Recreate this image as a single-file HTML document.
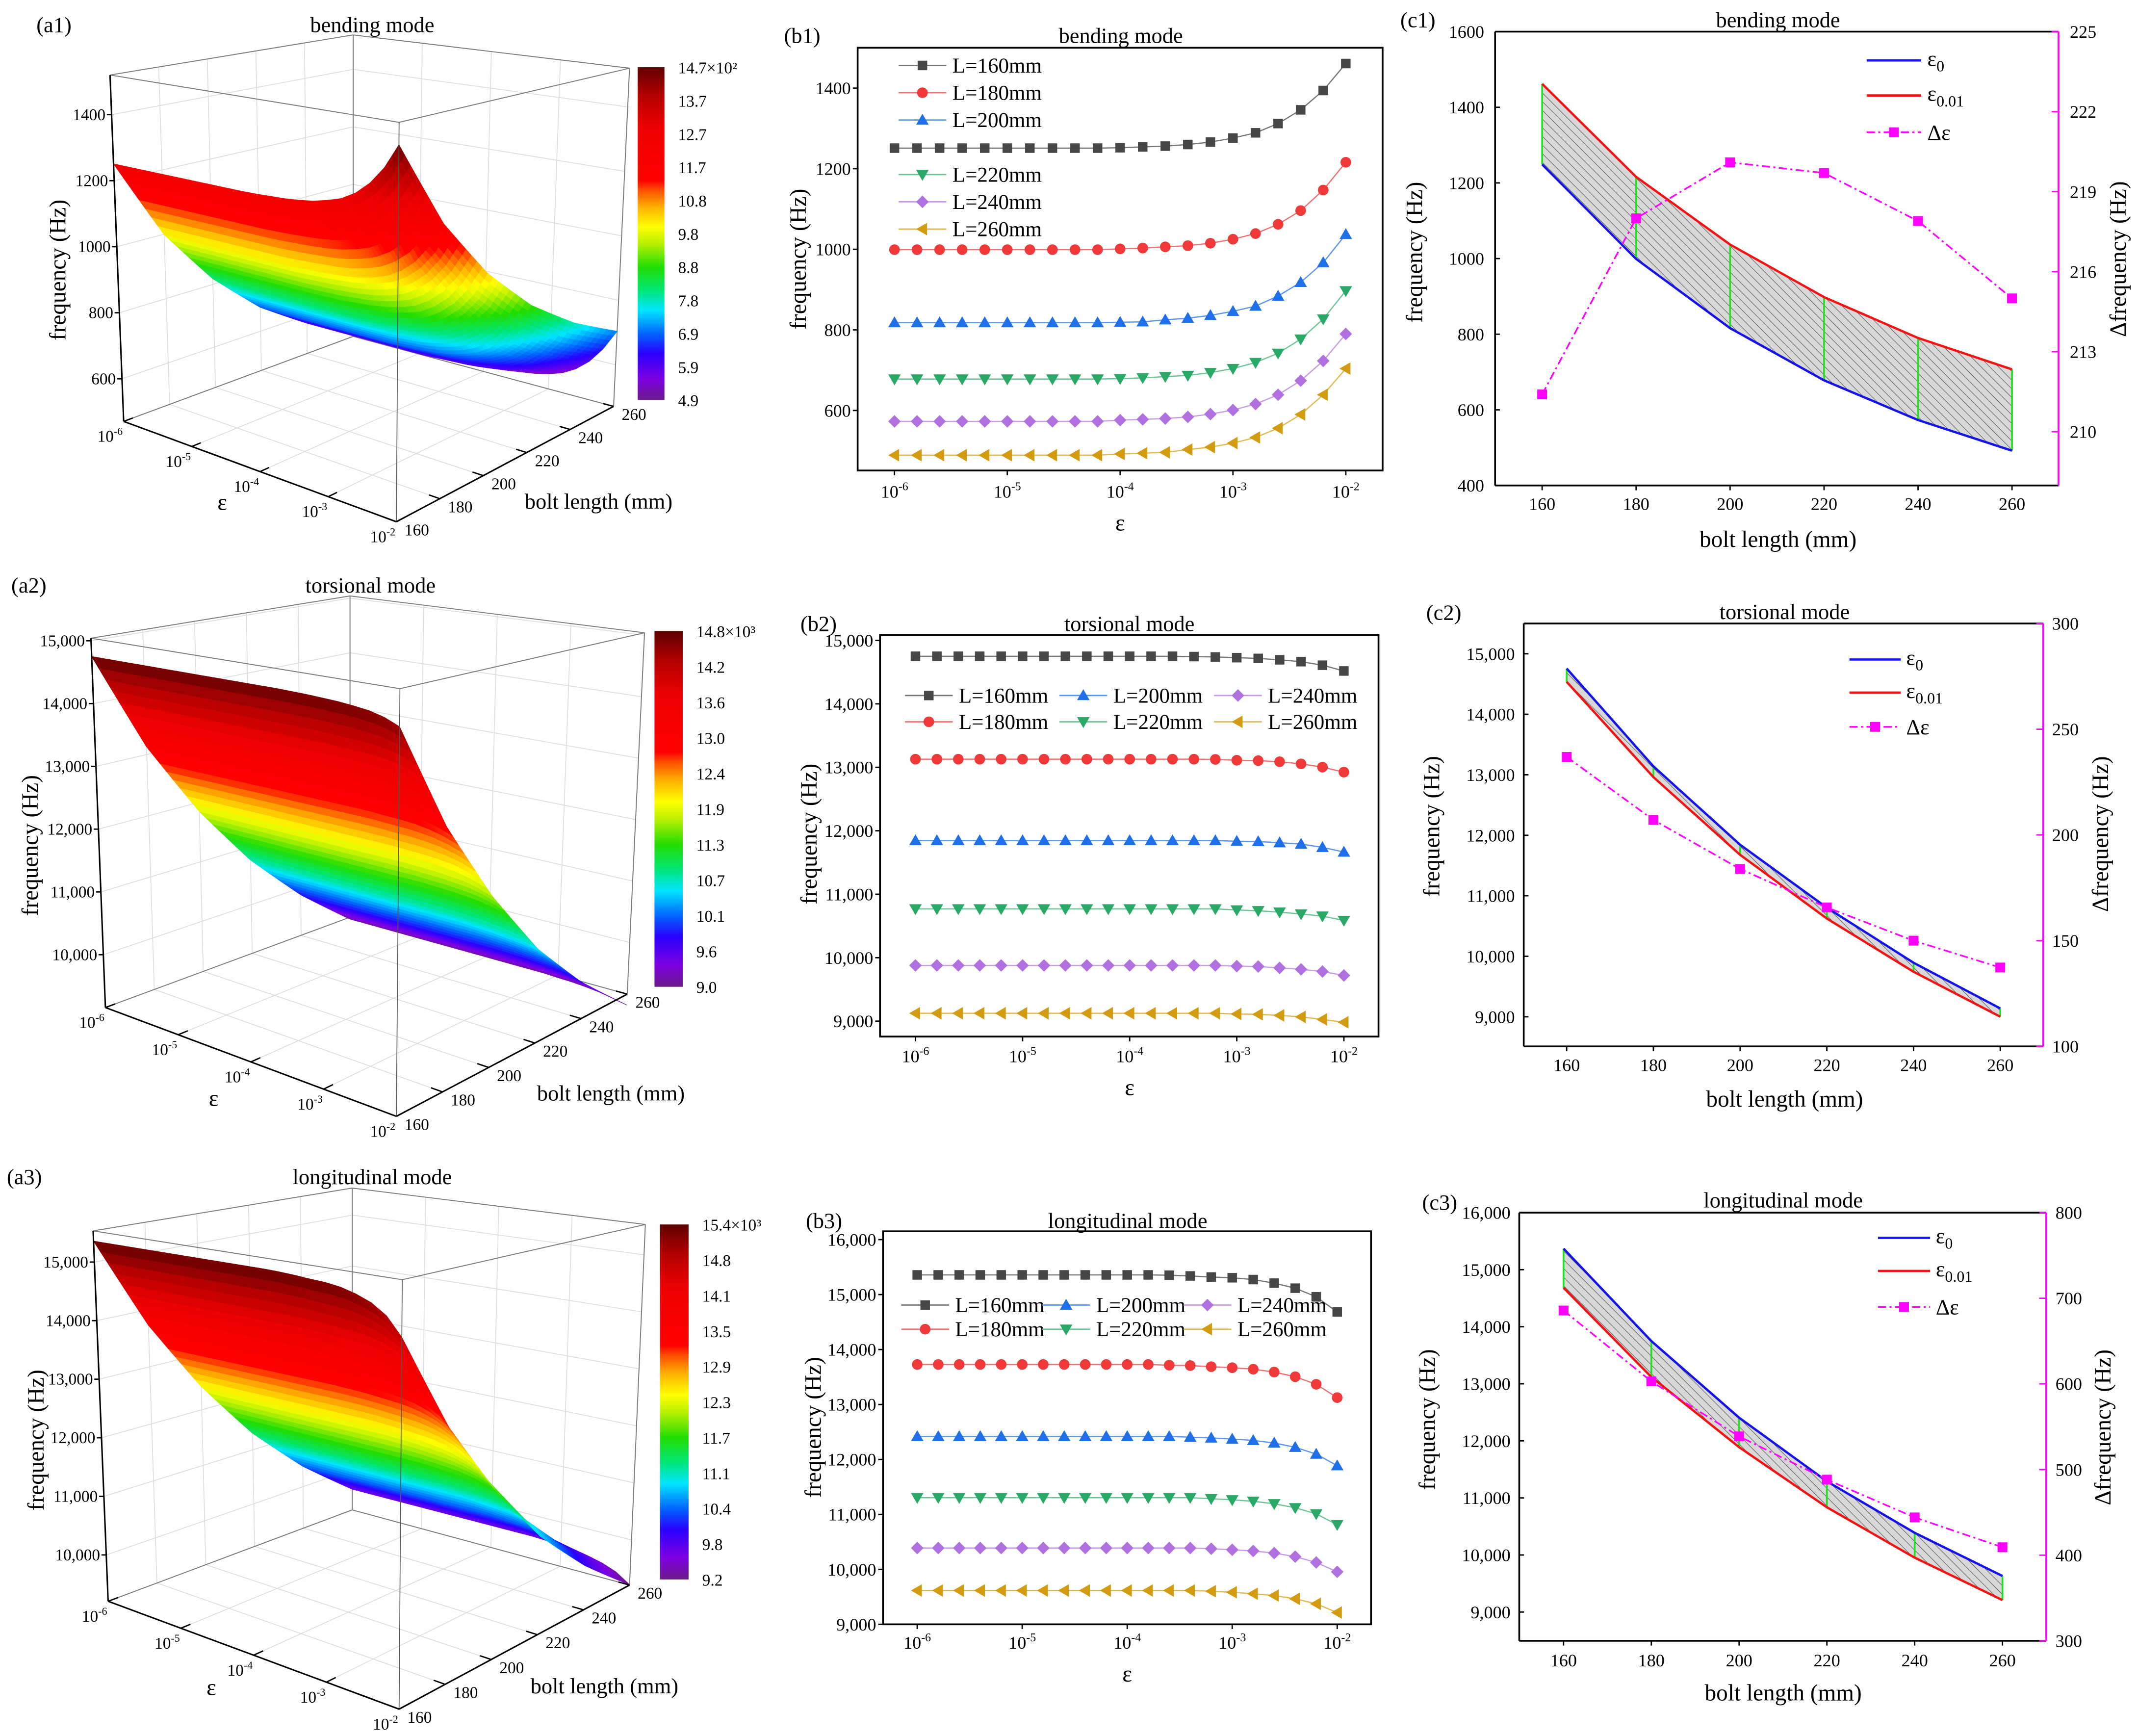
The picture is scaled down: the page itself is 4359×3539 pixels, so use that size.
<!DOCTYPE html>
<html><head><meta charset="utf-8">
<style>html,body{margin:0;padding:0;background:#fff}svg{display:block}</style>
</head><body>
<svg id="fig" xmlns="http://www.w3.org/2000/svg" width="4359" height="3539" viewBox="0 0 1568 1273" preserveAspectRatio="none" font-family="'Liberation Serif', serif">
<defs>
<pattern id="hatch" patternUnits="userSpaceOnUse" width="4.5" height="4.5" patternTransform="rotate(-45)">
<rect width="4.5" height="4.5" fill="#d8d8d8"/>
<line x1="0" y1="0" x2="0" y2="4.5" stroke="#3a3a3a" stroke-width="0.6"/>
</pattern>
</defs>
<rect x="0" y="0" width="1568" height="1273" fill="#fff"/>
</svg>
<script>
// ---------------- DATA ----------------
const epsExp = [-6,-5.8,-5.6,-5.4,-5.2,-5,-4.8,-4.6,-4.4,-4.2,-4,-3.8,-3.6,-3.4,-3.2,-3,-2.8,-2.6,-2.4,-2.2,-2];
const boltLengths = [160,180,200,220,240,260];
const seriesNames = ['L=160mm','L=180mm','L=200mm','L=220mm','L=240mm','L=260mm'];

const bendL160 = [1251,1251,1251,1251,1251,1251,1251,1251,1251,1251,1252,1254,1256,1260,1266,1276,1289,1312,1346,1394,1461];
const bendL180 = [999,999,999,999,999,999,999,999,999,999,1001,1003,1006,1009,1015,1025,1039,1062,1096,1147,1216];
const bendL200 = [818,818,818,818,818,818,818,818,818,818,819,820,825,829,836,846,859,884,918,967,1037];
const bendL220 = [678,678,678,678,678,678,678,678,678,678,679,681,684,687,694,704,719,742,777,827,897];
const bendL240 = [573,573,573,573,573,573,573,573,573,573,576,578,580,584,591,601,616,639,674,723,790];
const bendL260 = [489,489,489,489,489,489,489,489,489,489,492,494,496,503,509,519,533,556,590,639,704];

const torsL160 = [14750,14750,14750,14750,14750,14750,14750,14750,14750,14750,14750,14750,14750,14745,14739,14728,14716,14694,14665,14609,14518];
const torsL180 = [13128,13128,13128,13128,13128,13128,13128,13128,13128,13128,13128,13128,13128,13128,13125,13111,13105,13088,13054,13003,12924];
const torsL200 = [11846,11846,11846,11846,11846,11846,11846,11846,11846,11846,11846,11846,11846,11846,11846,11835,11830,11812,11790,11739,11665];
const torsL220 = [10769,10769,10769,10769,10769,10769,10769,10769,10769,10769,10769,10769,10769,10769,10769,10752,10740,10718,10689,10655,10587];
const torsL240 = [9878,9878,9878,9878,9878,9878,9878,9878,9878,9878,9878,9878,9878,9878,9878,9867,9861,9839,9816,9782,9720];
const torsL260 = [9124,9124,9124,9124,9124,9124,9124,9124,9124,9124,9124,9124,9124,9124,9124,9113,9107,9090,9067,9027,8982];

const longL160 = [15358,15358,15358,15358,15358,15358,15358,15358,15358,15358,15358,15358,15352,15339,15319,15306,15273,15208,15116,14959,14684];
const longL180 = [13728,13728,13728,13728,13728,13728,13728,13728,13728,13728,13728,13728,13715,13708,13688,13669,13642,13590,13505,13367,13125];
const longL200 = [12418,12418,12418,12418,12418,12418,12418,12418,12418,12418,12418,12418,12418,12405,12391,12371,12346,12300,12221,12097,11887];
const longL220 = [11305,11305,11305,11305,11305,11305,11305,11305,11305,11305,11305,11305,11305,11305,11285,11265,11239,11193,11121,11010,10813];
const longL240 = [10388,10388,10388,10388,10388,10388,10388,10388,10388,10388,10388,10388,10388,10388,10375,10356,10335,10296,10231,10126,9955];
const longL260 = [9615,9615,9615,9615,9615,9615,9615,9615,9615,9615,9615,9615,9615,9615,9602,9583,9556,9523,9464,9373,9215];

const bendEps0 = [1249,999,816,678,573,492];
const bendEps001 = [1462,1216,1037,898,790,707];
const bendDelta = [211.4,218.0,220.1,219.7,217.9,215.0];
const torsEps0 = [14756,13139,11843,10803,9893,9138];
const torsEps001 = [14536,12961,11677,10624,9744,9001];
const torsDelta = [236.9,207.1,183.9,165.7,150.0,137.3];
const longEps0 = [15369,13749,12406,11290,10388,9632];
const longEps001 = [14682,13119,11889,10836,9953,9209];
const longDelta = [685.7,602.9,538.7,488.2,444.1,409.2];

const bendTicksY = [600,800,1000,1200,1400];
const torsTicksY = [9000,10000,11000,12000,13000,14000,15000];
const longTicksY = [9000,10000,11000,12000,13000,14000,15000,16000];
const epsTickExp = [-6,-5,-4,-3,-2];
const bendDeltaTicks = [210,213,216,219,222,225];
const torsDeltaTicks = [100,150,200,250,300];
const longDeltaTicks = [300,400,500,600,700,800];
const cbBendLabels = ['14.7\u00d710\u00b2','13.7','12.7','11.7','10.8','9.8','8.8','7.8','6.9','5.9','4.9'];
const cbTorsLabels = ['14.8\u00d710\u00b3','14.2','13.6','13.0','12.4','11.9','11.3','10.7','10.1','9.6','9.0'];
const cbLongLabels = ['15.4\u00d710\u00b3','14.8','14.1','13.5','12.9','12.3','11.7','11.1','10.4','9.8','9.2'];
const a1ZTicks = [600,800,1000,1200,1400];
const a2ZTicks = [10000,11000,12000,13000,14000,15000];
const a3ZTicks = [10000,11000,12000,13000,14000,15000];

// ---------------- HELPERS ----------------
const NS='http://www.w3.org/2000/svg';
const svg=document.getElementById('fig');
function add(p,tag,a){const e=document.createElementNS(NS,tag);for(const k in a)e.setAttribute(k,a[k]);p.appendChild(e);return e;}
function txt(p,x,y,s,size,anchor,extra){const e=add(p,'text',Object.assign({x:x,y:y,'font-size':size,'text-anchor':anchor||'start',fill:'#000'},extra||{}));e.textContent=s;return e;}
function pow10(p,x,y,ex,size,anchor){const e=add(p,'text',{x:x,y:y,'font-size':size,'text-anchor':anchor||'middle',fill:'#000'});const a=add(e,'tspan',{});a.textContent='10';const b=add(e,'tspan',{dy:-size*0.42,'font-size':size*0.66});b.textContent=String(ex);return e;}
function fmt(v){return v>=9000?String(v).replace(/(\d)(\d{3})$/,'$1,$2'):String(v);}
function lin(v0,p0,v1,p1){return v=>p0+(v-v0)*(p1-p0)/(v1-v0);}
const cmapStops=[[0,[106,27,138]],[0.06,[127,0,224]],[0.14,[42,0,255]],[0.2,[0,102,255]],[0.27,[0,230,255]],[0.33,[0,230,118]],[0.4,[34,221,0]],[0.47,[184,240,0]],[0.52,[255,255,0]],[0.58,[255,176,0]],[0.63,[255,80,0]],[0.66,[255,0,0]],[0.82,[238,0,0]],[0.92,[176,0,0]],[1,[94,0,0]]];
function cmap(t){t=Math.max(0,Math.min(1,t));for(let i=1;i<cmapStops.length;i++){if(t<=cmapStops[i][0]){const a=cmapStops[i-1],b=cmapStops[i];const f=(t-a[0])/(b[0]-a[0]);const c=a[1].map((x,k)=>Math.round(x+(b[1][k]-x)*f));return 'rgb('+c.join(',')+')';}}return 'rgb(94,0,0)';}
let gid=0;
function marker(p,kind,x,y,color){
  let e;
  if(kind==='square'){e=add(p,'rect',{x:x-3.5,y:y-3.5,width:7,height:7,fill:color});}
  else if(kind==='circle'){e=add(p,'circle',{cx:x,cy:y,r:3.9,fill:color});}
  else {let pts;
    if(kind==='up')pts=[[x,y-4.6],[x+4.6,y+3.4],[x-4.6,y+3.4]];
    else if(kind==='down')pts=[[x,y+4.6],[x+4.6,y-3.4],[x-4.6,y-3.4]];
    else if(kind==='diamond')pts=[[x,y-4.6],[x+4.6,y],[x,y+4.6],[x-4.6,y]];
    else pts=[[x-4.6,y],[x+3.4,y-4.6],[x+3.4,y+4.6]];
    e=add(p,'polygon',{points:pts.map(q=>q.join(',')).join(' '),fill:color});}
  return e;
}
const seriesColors=['#474747','#f03a3a','#1f6fe8','#2aa866','#b070e0','#d39b10'];
const seriesLine=['#777','#f07070','#5b95f0','#6cc495','#c79be8','#e0b850'];
const seriesMarkers=['square','circle','up','down','diamond','left'];

// ---------------- B PANELS ----------------
function drawB(cfg){
  const g=add(svg,'g',{});
  
  
  const X=lin(-6,cfg.x0,-2,cfg.x1), Y=lin(cfg.yv0,cfg.yp0,cfg.yv1,cfg.yp1);
  const box=add(g,'rect',{x:cfg.l,y:cfg.t,width:cfg.r-cfg.l,height:cfg.b-cfg.t,fill:'none',stroke:'#000','stroke-width':1.3});
  
  
  cfg.yTicks.forEach(v=>{const y=Y(v);add(g,'line',{x1:cfg.l-3.5,x2:cfg.l,y1:y,y2:y,stroke:'#000','stroke-width':1});
    const t=txt(g,cfg.l-5,y+4.5,fmt(v),13,'end');
    
    });
  epsTickExp.forEach(ex=>{const x=X(ex);add(g,'line',{x1:x,x2:x,y1:cfg.b,y2:cfg.b+3.5,stroke:'#000','stroke-width':1});
    const t=pow10(g,x,cfg.tickY,ex,13,'middle');
    
    });
  cfg.series.forEach((vals,si)=>{
    const sg=add(g,'g',{});
    
    
    const pts=vals.map((v,i)=>[X(epsExp[i]),Y(v)]);
    add(sg,'polyline',{points:pts.map(q=>q.join(',')).join(' '),fill:'none',stroke:seriesLine[si],'stroke-width':0.9});
    pts.forEach(q=>{const m=marker(sg,seriesMarkers[si],q[0],q[1],seriesColors[si]);
      
      });
  });
  const lg=add(g,'g',{});
  
  
  cfg.legend.forEach((pos,si)=>{
    const [lx,ly]=pos;
    add(lg,'line',{x1:lx,x2:lx+35,y1:ly,y2:ly,stroke:seriesLine[si],'stroke-width':1});
    marker(lg,seriesMarkers[si],lx+17.5,ly,seriesColors[si]);
    const t=txt(lg,lx+39.5,ly+5.2,seriesNames[si],15.5,'start');
    
    
  });
  const tt=txt(g,cfg.titleX,cfg.titleY,cfg.title,16,'middle');
  
  
  const pl=txt(g,cfg.labX,cfg.titleY,cfg.lab,16,'start');
  
  
  const yt=txt(g,cfg.ytX+6,cfg.ytY,'frequency (Hz)',17,'middle',{transform:'rotate(-90 '+(cfg.ytX+6)+' '+cfg.ytY+')'});
  
  
  const xt=txt(g,(cfg.x0+cfg.x1)/2,cfg.epsY,'\u03b5',17,'middle');
  
  
}
const col=(a,b)=>[[a[0],b[0]],[a[0],b[1]],[a[1],b[0]],[a[1],b[1]],[a[2],b[0]],[a[2],b[1]]];
drawB({name:'panel-b1',l:629,r:1014,t:35,b:345,x0:656,x1:987,yv0:600,yp0:301,yv1:1400,yp1:64.6,yTicks:bendTicksY,tickY:365,epsY:389,
  series:[bendL160,bendL180,bendL200,bendL220,bendL240,bendL260],
  legend:[[659,48],[659,68],[659,88],[659,128],[659,148],[659,168]],
  title:'bending mode',titleX:822,titleY:31.5,lab:'(b1)',labX:575,ytX:585,ytY:190});
drawB({name:'panel-b2',l:645.4,r:1011,t:465.7,b:760.1,x0:671.4,x1:985.6,yv0:9000,yp0:748.8,yv1:15000,yp1:469.6,yTicks:torsTicksY,tickY:779,epsY:803,
  series:[torsL160,torsL180,torsL200,torsL220,torsL240,torsL260],
  legend:col([663.7,777,890.4],[510,529.3]),
  title:'torsional mode',titleX:828.3,titleY:462.7,lab:'(b2)',labX:587,ytX:593,ytY:611.6});
drawB({name:'panel-b3',l:647.6,r:1005.5,t:902.9,b:1191.1,x0:672.7,x1:980.7,yv0:9000,yp0:1191.1,yv1:16000,yp1:909,yTicks:longTicksY,tickY:1209,epsY:1233,
  series:[longL160,longL180,longL200,longL220,longL240,longL260],
  legend:col([661,764.4,868],[957,974.7]),
  title:'longitudinal mode',titleX:827,titleY:900.5,lab:'(b3)',labX:591,ytX:596,ytY:1046.7});

// ---------------- C PANELS ----------------
function drawC(cfg){
  const g=add(svg,'g',{});
  
  
  const X=lin(160,cfg.x0,260,cfg.x1), Y=lin(cfg.yv0,cfg.yp0,cfg.yv1,cfg.yp1), YR=lin(cfg.rv0,cfg.rp0,cfg.rv1,cfg.rp1);
  const p0=boltLengths.map((L,i)=>[X(L),Y(cfg.e0[i])]), p1=boltLengths.map((L,i)=>[X(L),Y(cfg.e1[i])]);
  const band=add(g,'polygon',{points:p0.concat(p1.slice().reverse()).map(q=>q.join(',')).join(' '),fill:'url(#hatch)',stroke:'none'});
  
  
  boltLengths.forEach((L,i)=>{const v=add(g,'line',{x1:p0[i][0],x2:p0[i][0],y1:p0[i][1],y2:p1[i][1],stroke:'#22e022','stroke-width':1.3});
    
    });
  const l0=add(g,'polyline',{points:p0.map(q=>q.join(',')).join(' '),fill:'none',stroke:'#1414e6','stroke-width':1.7});
  
  
  const l1=add(g,'polyline',{points:p1.map(q=>q.join(',')).join(' '),fill:'none',stroke:'#f01414','stroke-width':1.7});
  
  
  const pd=boltLengths.map((L,i)=>[X(L),YR(cfg.d[i])]);
  const ld=add(g,'polyline',{points:pd.map(q=>q.join(',')).join(' '),fill:'none',stroke:'#ff00ff','stroke-width':1.2,'stroke-dasharray':'6,2.5,1.5,2.5'});
  
  
  pd.forEach(q=>{const m=add(g,'rect',{x:q[0]-3.6,y:q[1]-3.6,width:7.2,height:7.2,fill:'#ff00ff'});
    
    });
  add(g,'line',{x1:cfg.l,x2:cfg.r,y1:cfg.t,y2:cfg.t,stroke:'#000','stroke-width':1.3});
  add(g,'line',{x1:cfg.l,x2:cfg.r,y1:cfg.b,y2:cfg.b,stroke:'#000','stroke-width':1.3});
  const la=add(g,'line',{x1:cfg.l,x2:cfg.l,y1:cfg.t,y2:cfg.b,stroke:'#000','stroke-width':1.3});
  
  
  const ra=add(g,'line',{x1:cfg.r,x2:cfg.r,y1:cfg.t,y2:cfg.b,stroke:'#ff00ff','stroke-width':1.3});
  
  
  cfg.yTicks.forEach(v=>{const y=Y(v);add(g,'line',{x1:cfg.l,x2:cfg.l+3.5,y1:y,y2:y,stroke:'#000','stroke-width':1});
    const t=txt(g,cfg.lTickX,y+4.5,fmt(v),13,'end');
    
    });
  cfg.rTicks.forEach(v=>{const y=YR(v);add(g,'line',{x1:cfg.r-5,x2:cfg.r,y1:y,y2:y,stroke:'#ff00ff','stroke-width':1});
    const t=txt(g,cfg.rTickX,y+4.5,String(v),13,'start');
    
    });
  boltLengths.forEach(L=>{const x=X(L);add(g,'line',{x1:x,x2:x,y1:cfg.b,y2:cfg.b+3.5,stroke:'#000','stroke-width':1});
    const t=txt(g,x,cfg.xTickY,String(L),13,'middle');
    
    });
  const lg=add(g,'g',{});
  
  
  const [lx0,lx1]=cfg.legX, ly=cfg.legY, tx=cfg.legTX;
  add(lg,'line',{x1:lx0,x2:lx1,y1:ly[0],y2:ly[0],stroke:'#1414e6','stroke-width':1.7});
  add(lg,'line',{x1:lx0,x2:lx1,y1:ly[1],y2:ly[1],stroke:'#f01414','stroke-width':1.7});
  add(lg,'line',{x1:lx0,x2:lx1,y1:ly[2],y2:ly[2],stroke:'#ff00ff','stroke-width':1.2,'stroke-dasharray':'6,2.5,1.5,2.5'});
  add(lg,'rect',{x:(lx0+lx1)/2-3.6,y:ly[2]-3.6,width:7.2,height:7.2,fill:'#ff00ff'});
  const e0=add(lg,'text',{x:tx,y:ly[0]+4,'font-size':16});
  
  
  add(e0,'tspan',{}).textContent='\u03b5';
  add(e0,'tspan',{dy:4,'font-size':11.5}).textContent='0';
  const e1=add(lg,'text',{x:tx,y:ly[1]+4,'font-size':16});
  
  
  add(e1,'tspan',{}).textContent='\u03b5';
  add(e1,'tspan',{dy:4,'font-size':11.5}).textContent='0.01';
  const e2=txt(lg,tx,ly[2]+5.5,'\u0394\u03b5',16,'start');
  
  
  const tt=txt(g,cfg.titleX,cfg.titleY,cfg.title,16,'middle');
  
  
  const pl=txt(g,cfg.labX,cfg.labY,cfg.lab,16,'start');
  
  
  const yt=txt(g,cfg.ytX+6,cfg.ytY,'frequency (Hz)',17,'middle',{transform:'rotate(-90 '+(cfg.ytX+6)+' '+cfg.ytY+')'});
  
  
  const rt=txt(g,cfg.rtX+6,cfg.rtY,'\u0394frequency (Hz)',17,'middle',{transform:'rotate(-90 '+(cfg.rtX+6)+' '+cfg.rtY+')'});
  
  
  const xt=txt(g,cfg.xtX,cfg.xtY,'bolt length (mm)',17,'middle');
  
  
}
drawC({name:'panel-c1',l:1096.5,r:1509.7,t:23.2,b:356,x0:1131,x1:1475.6,yv0:400,yp0:356,yv1:1600,yp1:23.2,rv0:210,rp0:316.6,rv1:225,rp1:23.2,
  e0:bendEps0,e1:bendEps001,d:bendDelta,yTicks:[400,600,800,1000,1200,1400,1600],rTicks:bendDeltaTicks,lTickX:1088.5,rTickX:1518,xTickY:374,
  legX:[1369,1409],legY:[44.3,70,97],legTX:1413.5,title:'bending mode',titleX:1304,titleY:20,lab:'(c1)',labX:1027,labY:20,
  ytX:1037,ytY:185,rtX:1553,rtY:190,xtX:1304,xtY:401});
drawC({name:'panel-c2',l:1117.5,r:1498.5,t:457.2,b:767.3,x0:1149,x1:1467,yv0:9000,yp0:745.6,yv1:15000,yp1:479.4,rv0:100,rp0:767.3,rv1:300,rp1:457.2,
  e0:torsEps0,e1:torsEps001,d:torsDelta,yTicks:torsTicksY,rTicks:torsDeltaTicks,lTickX:1111,rTickX:1505,xTickY:785.5,
  legX:[1356.4,1394],legY:[483.6,507.9,533],legTX:1398,title:'torsional mode',titleX:1308.8,titleY:454,lab:'(c2)',labX:1046,labY:454.5,
  ytX:1049.6,ytY:606,rtX:1540,rtY:611.6,xtX:1308.8,xtY:811.5});
drawC({name:'panel-c3',l:1114.2,r:1500.7,t:889.2,b:1203.2,x0:1146.7,x1:1468.6,yv0:9000,yp0:1182.1,yv1:16000,yp1:889.2,rv0:300,rp0:1203.2,rv1:800,rp1:889.2,
  e0:longEps0,e1:longEps001,d:longDelta,yTicks:longTicksY,rTicks:longDeltaTicks,lTickX:1107.8,rTickX:1507.5,xTickY:1222,
  legX:[1377.3,1415.5],legY:[907.7,932,958.4],legTX:1419.7,title:'longitudinal mode',titleX:1307.8,titleY:885.5,lab:'(c3)',labX:1043,labY:887,
  ytX:1046.3,ytY:1041,rtX:1541.9,rtY:1046.7,xtX:1307.8,xtY:1247});

// ---------------- A PANELS (3D) ----------------
function bil(c,u,v){return [(1-u)*(1-v)*c[0][0]+u*(1-v)*c[1][0]+u*v*c[2][0]+(1-u)*v*c[3][0],(1-u)*(1-v)*c[0][1]+u*(1-v)*c[1][1]+u*v*c[2][1]+(1-u)*v*c[3][1]];}
function drawA(cfg){
  const g=add(svg,'g',{});
  
  
  const P=(u,v,f)=>{const b=bil(cfg.bot,u,v),t=bil(cfg.top,u,v);const h=(f-cfg.zmin)/(cfg.zmax-cfg.zmin);return [b[0]+(t[0]-b[0])*h,b[1]+(t[1]-b[1])*h];};
  const L=(a,b,st,w)=>add(g,'line',{x1:a[0],y1:a[1],x2:b[0],y2:b[1],stroke:st,'stroke-width':w});
  const uT=epsTickExp.map(e=>(e+6)/4), vT=boltLengths.map(b=>(b-160)/100);
  const grid=add(g,'g',{});
  
  
  const GL=(a,b)=>add(grid,'line',{x1:a[0],y1:a[1],x2:b[0],y2:b[1],stroke:'#dcdcdc','stroke-width':0.6});
  uT.forEach(u=>{GL(P(u,0,cfg.zmin),P(u,1,cfg.zmin));GL(P(u,1,cfg.zmin),P(u,1,cfg.zmax));});
  vT.forEach(v=>{GL(P(0,v,cfg.zmin),P(1,v,cfg.zmin));GL(P(0,v,cfg.zmin),P(0,v,cfg.zmax));});
  cfg.zTicks.forEach(z=>{GL(P(0,0,z),P(0,1,z));GL(P(0,1,z),P(1,1,z));});
  const [FL,FR,BR,BL]=cfg.bot,[FLt,FRt,BRt,BLt]=cfg.top;
  [[FLt,FRt],[FRt,BRt],[BRt,BLt],[BLt,FLt],[BL,BLt],[BR,BRt],[FL,BL],[BL,BR]].forEach(s=>L(s[0],s[1],'#7a7a7a',0.7));
  const sg=add(g,'g',{});
  
  
  const rows=cfg.rows, S=8, U=4, nv=5*S, nu=20*U, quads=[];
  const colF=(a,k)=>{const i=Math.min(19,Math.floor(a/U)),fr=(a-i*U)/U;return rows[k][i]+(rows[k][i+1]-rows[k][i])*fr;};
  const fAt=(a,j)=>{const k=Math.min(4,Math.floor(j/S)),fr=(j-k*S)/S;const A=colF(a,k),B=colF(a,k+1);return A+(B-A)*fr;};
  const uAt=a=>{const i=Math.min(19,Math.floor(a/U)),fr=(a-i*U)/U;return (epsExp[i]+(epsExp[i+1]-epsExp[i])*fr+6)/4;};
  for(let a=0;a<nu;a++)for(let j=0;j<nv;j++){
    const u0=uAt(a),u1=uAt(a+1),v0=j/nv,v1=(j+1)/nv;
    const f00=fAt(a,j),f10=fAt(a+1,j),f11=fAt(a+1,j+1),f01=fAt(a,j+1);
    const pts=[P(u0,v0,f00),P(u1,v0,f10),P(u1,v1,f11),P(u0,v1,f01)];
    const fa=(f00+f10+f11+f01)/4;
    quads.push({key:j*1000+(nu-a),pts,c:cmap((fa-cfg.cmin)/(cfg.cmax-cfg.cmin))});
  }
  quads.sort((a,b)=>b.key-a.key);
  quads.forEach(q=>{add(sg,'polygon',{points:q.pts.map(p=>p[0].toFixed(2)+','+p[1].toFixed(2)).join(' '),fill:q.c,stroke:q.c,'stroke-width':0.4,'stroke-linejoin':'round'});});
  const za=L(FLt,FL,'#000',1.1);
  
  
  const ea=L(FL,FR,'#000',1.1);
  
  
  const ba=L(FR,BR,'#000',1.1);
  
  
  L(FR,FRt,'#555',0.6);
  cfg.zTicks.forEach(z=>{const p=P(0,0,z);L([p[0]-3.5,p[1]],p,'#000',1);
    const t=txt(g,p[0]-4.5,p[1]+4,fmt(z),12,'end');
    
    });
  epsTickExp.forEach((ex,k)=>{const u=uT[k];const p=P(u,0,cfg.zmin);L(p,P(u,0.04,cfg.zmin),'#000',1);
    const t=pow10(g,p[0]-10,p[1]+15,ex,12,'middle');
    
    });
  boltLengths.forEach((b,k)=>{const v=vT[k];const p=P(1,v,cfg.zmin);L(p,P(0.96,v,cfg.zmin),'#000',1);
    const t=txt(g,p[0]+15,p[1]+10,String(b),12,'middle');
    
    });
  gid++;
  const defs=svg.querySelector('defs');
  const lg=add(defs,'linearGradient',{id:'cb'+gid,x1:0,y1:1,x2:0,y2:0});
  cmapStops.forEach(s=>add(lg,'stop',{offset:s[0],'stop-color':'rgb('+s[1].join(',')+')'}));
  const cb=add(g,'rect',{x:cfg.cb.x,y:cfg.cb.t,width:cfg.cb.w,height:cfg.cb.b-cfg.cb.t,fill:'url(#cb'+gid+')'});
  
  
  cfg.cbLabels.forEach((s,k)=>{const y=cfg.cb.t+(cfg.cb.b-cfg.cb.t)*k/(cfg.cbLabels.length-1);
    const t=txt(g,cfg.cb.x+cfg.cb.w+10,y+4.5,s,12,'start');
    
    });
  const tt=txt(g,cfg.titleX,cfg.titleY,cfg.title,16,'middle');
  
  
  const pl=txt(g,cfg.labX,cfg.titleY,cfg.lab,16,'start');
  
  
  const yt=txt(g,cfg.ytX+6,cfg.ytY,'frequency (Hz)',17,'middle',{transform:'rotate(-90 '+(cfg.ytX+6)+' '+cfg.ytY+')'});
  
  
  const et=txt(g,cfg.epsL[0],cfg.epsL[1]+5,'\u03b5',17,'middle');
  
  
  const bt=txt(g,cfg.boltL[0],cfg.boltL[1]+5,'bolt length (mm)',16,'middle');
  
  
}
drawA({name:'panel-a1',bot:[[90.7,309],[290.7,382.6],[450,298],[259,246.7]],top:[[80.7,55],[292.7,89.7],[461.7,50],[259,25.6]],
  zmin:471,zmax:1520,zTicks:a1ZTicks,rows:[bendL160,bendL180,bendL200,bendL220,bendL240,bendL260],cmin:490,cmax:1470,
  cb:{x:467.7,w:19.6,t:49.3,b:293.4},cbLabels:cbBendLabels,title:'bending mode',titleX:273,titleY:23.5,lab:'(a1)',labX:26.7,
  ytX:42,ytY:198,epsL:[163,369],boltL:[439,368]});
drawA({name:'panel-a2',bot:[[77.3,738.8],[290.7,818.6],[460,729],[256.7,672.6]],top:[[66.7,468],[293.3,505],[472.7,464],[256.7,437]],
  zmin:9159,zmax:15041,zTicks:a2ZTicks,rows:[torsL160,torsL180,torsL200,torsL220,torsL240,torsL260],cmin:9000,cmax:14800,
  cb:{x:480,w:20.7,t:462.7,b:723.6},cbLabels:cbTorsLabels,title:'torsional mode',titleX:271.7,titleY:434.5,lab:'(a2)',labX:8.3,
  ytX:21.7,ytY:620,epsL:[156.7,806],boltL:[448,802]});
drawA({name:'panel-a3',bot:[[79.3,1174.2],[292.7,1253.3],[461.7,1162.3],[258.3,1107.2]],top:[[68.3,902.6],[295,938.4],[473.3,897.9],[258.3,871.2]],
  zmin:9209,zmax:15532,zTicks:a3ZTicks,rows:[longL160,longL180,longL200,longL220,longL240,longL260],cmin:9200,cmax:15400,
  cb:{x:484,w:21,t:897.9,b:1158.2},cbLabels:cbLongLabels,title:'longitudinal mode',titleX:273,titleY:868.4,lab:'(a3)',labX:5,
  ytX:26,ytY:1056,epsL:[155,1238],boltL:[443.3,1236.7]});
</script>
</body></html>
